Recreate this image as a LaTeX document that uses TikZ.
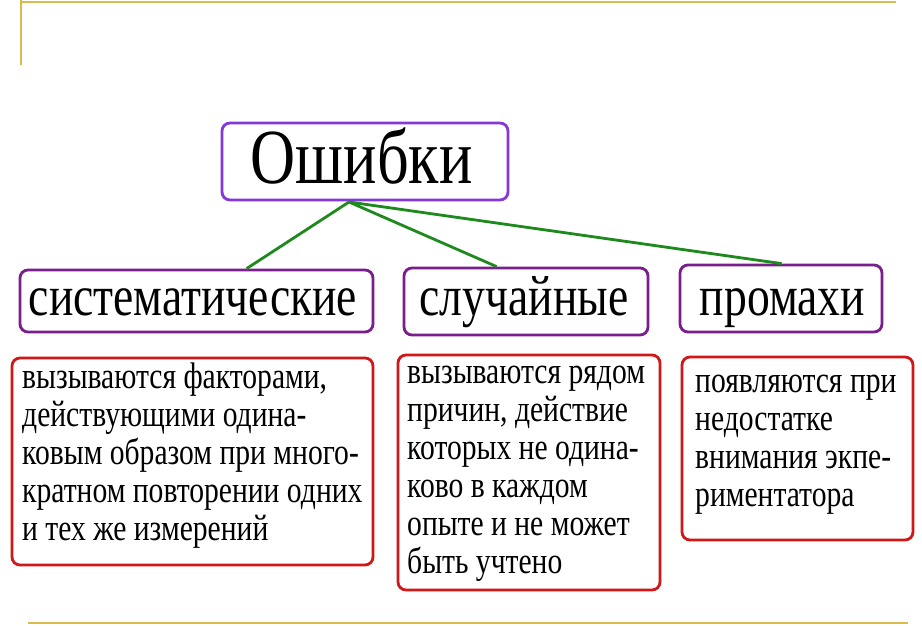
\documentclass[tikz,border=0pt]{standalone}
\usepackage{fontspec}
\setmainfont{Liberation Serif}[FakeStretch=0.8]
\definecolor{gold}{HTML}{D8BC4E}
\definecolor{violetb}{HTML}{8338D8}
\definecolor{purpleb}{HTML}{7A1E8E}
\definecolor{redb}{HTML}{D01818}
\definecolor{greenl}{HTML}{1E8A1E}
\begin{document}
\begin{tikzpicture}[x=1pt,y=-1pt,
  topbox/.style={draw=violetb,line width=2.8pt,rounded corners=8pt,inner sep=0pt},
  catbox/.style={draw=purpleb,line width=2.8pt,rounded corners=8pt,inner sep=0pt},
  descbox/.style={draw=redb,line width=2.8pt,rounded corners=8pt,inner sep=0pt},
  cattext/.style={anchor=base,inner sep=0pt,font=\fontsize{57}{60}\selectfont},
  desctext/.style={anchor=north west,inner sep=0pt,align=left,font=\fontsize{37}{38}\selectfont},
  conn/.style={draw=greenl,line width=2.8pt},
  goldline/.style={draw=gold,line width=2.6pt}]
\useasboundingbox (0,0) rectangle (922,626);
\fill[white] (0,0) rectangle (922,626);
% frame lines
\coordinate (g1) at (21,0);
\coordinate (g2) at (21,2);
\coordinate (g3) at (896,2);
\coordinate (g4) at (21,65);
\coordinate (g5) at (28,623);
\coordinate (g6) at (908,623);
\draw[goldline] (g2) -- (g3);
\draw[goldline] (g1) -- (g4);
\draw[goldline] (g5) -- (g6);
% boxes
\node[topbox,minimum width=286,minimum height=77] (err) at (365,161.5) {};
\node[anchor=base,inner sep=0pt,font=\fontsize{78}{80}\selectfont] (errt) at (361.5,183) {Ошибки};
\node[catbox,minimum width=353,minimum height=62] (sys) at (196.5,301) {};
\node[cattext] (syst) at (193,315) {систематические};
\node[catbox,minimum width=244,minimum height=67] (rnd) at (526,301.5) {};
\node[cattext] (rndt) at (524,315) {случайные};
\node[catbox,minimum width=202,minimum height=67] (miss) at (781,298.5) {};
\node[cattext] (misst) at (782.5,315) {промахи};
% connectors
\coordinate (j) at (349,202);
\draw[conn] (j) -- ([xshift=228pt]sys.north west);
\draw[conn] (j) -- ([xshift=94pt]rnd.north west);
\draw[conn] (j) -- ([xshift=103pt]miss.north west);
% description boxes
\node[descbox,minimum width=361,minimum height=207] (d1) at (192.5,461.5) {};
\node[desctext] (d1t) at (22,361.4) {\strut вызываются факторами,\\действующими одина-\\ковым образом при много-\\кратном повторении одних\\и тех же измерений};
\node[descbox,minimum width=262,minimum height=235] (d2) at (529,472.5) {};
\node[desctext] (d2t) at (407,356.4) {\strut вызываются рядом\\причин, действие\\которых не одина-\\ково в каждом\\опыте и не может\\быть учтено};
\node[descbox,minimum width=231,minimum height=183] (d3) at (797.5,448.5) {};
\node[desctext] (d3t) at (695,365.4) {\strut появляются при\\недостатке\\внимания экпе-\\риментатора};
\end{tikzpicture}
\end{document}
